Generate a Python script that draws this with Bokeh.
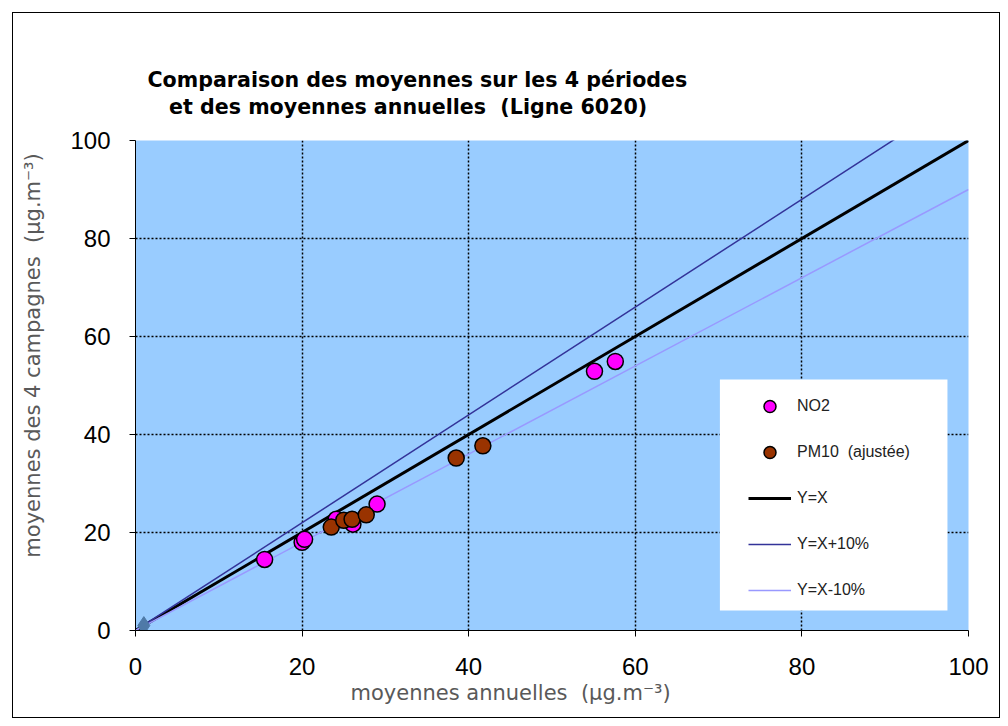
from bokeh.plotting import figure
from bokeh.models import (Range1d, Legend, LegendItem, BoxAnnotation, Title,
                          FixedTicker)
from bokeh.embed import file_html
from bokeh.resources import INLINE

# ---- data ----
no2_x = [15.5, 20.0, 20.3, 24.1, 26.1, 29.0, 55.1, 57.6]
no2_y = [14.5, 18.0, 18.6, 22.7, 21.7, 25.8, 52.9, 54.9]
pm10_x = [23.5, 25.0, 26.0, 27.7, 38.5, 41.7]
pm10_y = [21.1, 22.5, 22.7, 23.6, 35.2, 37.7]
origin_x = [1.0]
origin_y = [1.0]
line_x = [0, 100]
line_eq = [0, 100]
line_plus = [0, 110]
line_minus = [0, 90]
ticks = [0, 20, 40, 60, 80, 100]

NB = "\u00a0"

# ---- layout (screen px) ----
FL, FR, FT, FB = 135, 966, 140, 628   # frame edges in the page


def dx(px):
    return (px - FL) / (FR - FL) * 100.0


def dy(py):
    return (FB - py) / (FB - FT) * 100.0


W, H = 986, 704
p = figure(width=W, height=H, output_backend="svg", toolbar_location=None,
           x_range=Range1d(0, 100), y_range=Range1d(0, 100),
           min_border_left=FL - 13, min_border_top=FT - 13,
           min_border_right=(13 + W) - FR, min_border_bottom=(13 + H) - FB,
           background_fill_color="#99ccff", border_fill_color="white",
           outline_line_color=None)
p.styles = {"border": "1px solid black", "margin-left": "12px", "margin-top": "12px",
            "box-sizing": "content-box"}

for ax in (p.xaxis[0], p.yaxis[0]):
    ax.ticker = FixedTicker(ticks=ticks)
    ax.minor_tick_line_color = None
    ax.major_tick_out = 6
    ax.major_tick_in = 0
    ax.axis_line_color = "black"
    ax.major_tick_line_color = "black"
    ax.major_label_text_font = "Liberation Sans"
    ax.major_label_text_font_size = "24px"
    ax.major_label_text_color = "black"
p.yaxis.major_label_standoff = 19
p.xaxis.major_label_standoff = 21

# y-axis title (leading no-break spaces shift it up as in the reference)
p.yaxis.axis_label = NB * 9 + "moyennes des 4 campagnes" + NB + " (µg.m⁻³)"
p.yaxis.axis_label_text_font = "DejaVu Sans"
p.yaxis.axis_label_text_font_size = "21px"
p.yaxis.axis_label_text_font_style = "normal"
p.yaxis.axis_label_text_color = "#595959"
p.yaxis.axis_label_standoff = 22

for g in (p.xgrid[0], p.ygrid[0]):
    g.ticker = FixedTicker(ticks=ticks)
    g.grid_line_color = "black"
    g.grid_line_dash = "2 2"
    g.grid_line_width = 1.5

r_eq = p.line(line_x, line_eq, line_color="black", line_width=3)
r_plus = p.line(line_x, line_plus, line_color="#333399", line_width=1.5)
r_minus = p.line(line_x, line_minus, line_color="#9999ff", line_width=1.5)

p.scatter(origin_x, origin_y, marker="diamond", size=18, fill_color="#4f7aa8",
          line_color="#4f7aa8")
r_no2 = p.scatter(no2_x, no2_y, marker="circle", size=16, fill_color="#ff00ff",
                  line_color="black", line_width=1.5)
r_pm = p.scatter(pm10_x, pm10_y, marker="circle", size=16, fill_color="#993300",
                 line_color="black", line_width=1.5)

# legend background box
p.add_layout(BoxAnnotation(left=dx(718), right=dx(945), bottom=dy(608), top=dy(378),
                           fill_color="white", fill_alpha=1, line_color=None))

legend = Legend(items=[
    LegendItem(label="NO2", renderers=[r_no2]),
    LegendItem(label="PM10" + NB + " (ajustée)", renderers=[r_pm]),
    LegendItem(label="Y=X", renderers=[r_eq]),
    LegendItem(label="Y=X+10%", renderers=[r_plus]),
    LegendItem(label="Y=X-10%", renderers=[r_minus]),
], location=(748 - FL, FB - 603), padding=0, margin=0, spacing=16,
    glyph_width=43, glyph_height=30, label_height=30, label_standoff=6,
    background_fill_alpha=0, border_line_color=None,
    label_text_font="Liberation Sans", label_text_font_size="16px",
    label_text_color="#222222")
p.add_layout(legend)

# two-line title above the frame
title_text = ("Comparaison des moyennes sur les 4 périodes\n"
              + NB * 3 + "et des moyennes annuelles" + NB + " (Ligne 6020)")
t = Title(text=title_text, align="left", offset=147 - FL,
          text_font="DejaVu Sans", text_font_size="20.6px", text_font_style="bold",
          text_color="black", standoff=42, vertical_align="bottom",
          text_line_height=1.15)
p.add_layout(t, "above")

tx = Title(text="moyennes annuelles" + NB + " (µg.m⁻³)", align="left", offset=350 - FL,
           text_font="DejaVu Sans", text_font_size="21px", text_font_style="normal",
           text_color="#595959", standoff=2)
p.add_layout(tx, "below")

open("out.html", "w").write(file_html(p, INLINE))
